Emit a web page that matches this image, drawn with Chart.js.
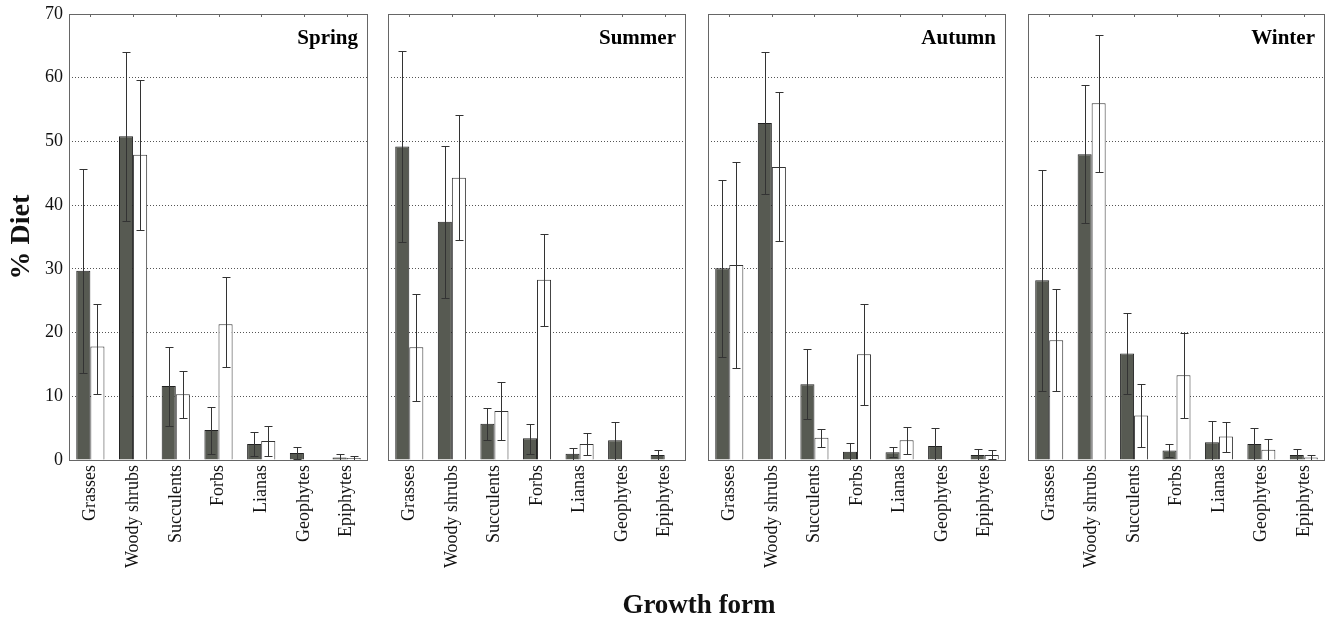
<!DOCTYPE html>
<html lang="en">
<head>
  <meta charset="UTF-8" />
  <title>% Diet by growth form</title>
  <style>
    body {
      margin: 0;
      background: #fff;
      font-family: 'Liberation Serif', 'Times New Roman', serif;
    }
    #wrap {
      position: relative;
      width: 1329px;
      height: 622px;
      overflow: hidden;
    }
    canvas {
      position: absolute;
      top: 0;
    }
    #xtitle {
      position: absolute;
      left: 549px;
      width: 300px;
      top: 588px;
      text-align: center;
      font-weight: bold;
      font-size: 27px;
      line-height: 32px;
      color: #111;
    }
  </style>
</head>
<body>
  <div id="wrap">
    <canvas id="c0" width="370" height="622"></canvas>
    <canvas id="c1" width="302" height="622"></canvas>
    <canvas id="c2" width="302" height="622"></canvas>
    <canvas id="c3" width="301" height="622"></canvas>
    <div id="xtitle">Growth form</div>
  </div>

  <script src="https://cdn.jsdelivr.net/npm/chart.js"></script>
  <script>
    const seasons = ['Spring', 'Summer', 'Autumn', 'Winter'];
    const categories = ['Grasses', 'Woody shrubs', 'Succulents', 'Forbs', 'Lianas', 'Geophytes', 'Epiphytes'];
    const yTicks = [0, 10, 20, 30, 40, 50, 60, 70];

    // dark bars (one row per season)
    const darkMean = [
      [29.7, 50.8, 11.6, 4.7, 2.5, 1.1, 0.4],
      [49.2, 37.4, 5.7, 3.4, 1.0, 3.1, 0.8],
      [30.1, 52.9, 11.9, 1.3, 1.2, 2.2, 0.8],
      [28.2, 48.0, 16.7, 1.5, 2.8, 2.5, 0.8]
    ];
    const darkLow = [
      [13.6, 37.5, 5.4, 1.0, 0.6, 0.1, 0.0],
      [34.2, 25.5, 3.1, 1.0, 0.0, 0.0, 0.0],
      [16.2, 41.7, 6.4, 0.0, 0.5, 0.0, 0.0],
      [10.9, 37.2, 10.3, 0.5, 0.0, 0.0, 0.0]
    ];
    const darkHigh = [
      [45.7, 64.0, 17.7, 8.3, 4.4, 2.1, 0.9],
      [64.2, 49.3, 8.2, 5.7, 1.9, 6.0, 1.6],
      [44.0, 64.1, 17.4, 2.6, 2.1, 5.0, 1.8],
      [45.5, 58.8, 23.0, 2.5, 6.1, 5.0, 1.8]
    ];

    // white bars
    const whiteMean = [
      [17.8, 47.9, 10.3, 21.3, 3.0, 0, 0.3],
      [17.7, 44.3, 7.7, 28.3, 2.5, 0, 0],
      [30.6, 46.0, 3.5, 16.6, 3.1, 0, 0.8],
      [18.8, 56.0, 7.0, 13.3, 3.7, 1.6, 0.4]
    ];
    const whiteLow = [
      [10.4, 36.1, 6.6, 14.6, 0.6, 0, 0.0],
      [9.3, 34.6, 3.1, 21.1, 0.8, 0, 0],
      [14.4, 34.3, 2.1, 8.7, 0.9, 0, 0.1],
      [10.8, 45.2, 2.0, 6.6, 1.3, 0.0, 0.0]
    ];
    const whiteHigh = [
      [24.5, 59.7, 13.9, 28.7, 5.3, 0, 0.7],
      [26.1, 54.1, 12.2, 35.4, 4.2, 0, 0],
      [46.7, 57.7, 4.9, 24.5, 5.2, 0, 1.6],
      [26.8, 66.7, 11.9, 20.0, 5.9, 3.3, 0.8]
    ];

    const DARK = '#575a52';
    const plotLefts = [69, 388, 708, 1028];
    const plotTop = 14;
    const plotBottom = 460;

    // whiskers for each bar
    const errorBars = {
      id: 'errorBars',
      afterDatasetsDraw(chart, args, opts) {
        const ctx = chart.ctx;
        const y = chart.scales.y;
        ctx.save();
        ctx.strokeStyle = '#333';
        ctx.lineWidth = 1;
        chart.data.datasets.forEach((ds, i) => {
          const meta = chart.getDatasetMeta(i);
          meta.data.forEach((bar, j) => {
            const hi = ds.errHigh[j], lo = ds.errLow[j];
            if (!hi) return;
            const x = Math.round(bar.x) + 0.5;
            const yh = Math.round(y.getPixelForValue(hi)) + 0.5;
            const yl = Math.round(y.getPixelForValue(lo)) + 0.5;
            ctx.beginPath();
            ctx.moveTo(x, yh); ctx.lineTo(x, yl);
            ctx.moveTo(x - 4, yh); ctx.lineTo(x + 4, yh);
            if (lo > 0.05) { ctx.moveTo(x - 4, yl); ctx.lineTo(x + 4, yl); }
            ctx.stroke();
          });
        });
        ctx.restore();
      }
    };

    // frame, top tick marks and season name
    const frame = {
      id: 'frame',
      afterDraw(chart, args, opts) {
        const ctx = chart.ctx;
        const a = chart.chartArea;
        ctx.save();
        ctx.strokeStyle = '#666';
        ctx.lineWidth = 1;
        ctx.strokeRect(Math.round(a.left) + 0.5, Math.round(a.top) + 0.5,
                       Math.round(a.right - a.left) - 1, Math.round(a.bottom - a.top));
        const xs = chart.scales.x;
        ctx.beginPath();
        categories.forEach((c, i) => {
          const px = Math.round(xs.getPixelForTick(i)) + 0.5;
          ctx.moveTo(px, a.top); ctx.lineTo(px, a.top + 3);
        });
        ctx.stroke();
        ctx.fillStyle = '#000';
        ctx.font = 'bold 21px "Liberation Serif", serif';
        ctx.textAlign = 'right';
        ctx.textBaseline = 'alphabetic';
        ctx.fillText(opts.label, a.right - 10, a.top + 30);
        ctx.restore();
      }
    };

    function makeChart(k) {
      const first = k === 0;
      const canvas = document.getElementById('c' + k);
      canvas.style.left = (first ? 0 : plotLefts[k] - 2) + 'px';
      new Chart(canvas, {
        type: 'bar',
        data: {
          labels: categories,
          datasets: [
            {
              data: darkMean[k], errLow: darkLow[k], errHigh: darkHigh[k],
              backgroundColor: DARK, borderColor: '#222', borderWidth: 1
            },
            {
              data: whiteMean[k], errLow: whiteLow[k], errHigh: whiteHigh[k],
              backgroundColor: '#fff', borderColor: '#333', borderWidth: 1
            }
          ]
        },
        options: {
          responsive: false,
          animation: false,
          events: [],
          categoryPercentage: 0.66,
          barPercentage: 1.0,
          layout: { padding: { top: plotTop, left: first ? 0 : 2, right: 2, bottom: 0 } },
          plugins: {
            legend: { display: false },
            tooltip: { enabled: false },
            frame: { label: seasons[k] }
          },
          scales: {
            x: {
              grid: { display: false, drawTicks: false },
              border: { display: false },
              ticks: {
                minRotation: 90, maxRotation: 90, autoSkip: false, padding: 5,
                color: '#111',
                font: { family: '"Liberation Serif", serif', size: 18 }
              },
              afterFit(s) {
                s.height = 622 - plotBottom;
                s.paddingLeft = 0; s.paddingRight = 0;
              }
            },
            y: {
              min: 0, max: 70,
              afterBuildTicks(s) { s.ticks = yTicks.map(v => ({ value: v })); },
              grid: {
                drawTicks: false,
                color: ctx => (ctx.tick.value === 0 || ctx.tick.value === 70) ? 'rgba(0,0,0,0)' : '#555',
                lineWidth: 1
              },
              border: { display: false, dash: [1, 2] },
              ticks: {
                display: first, padding: 6, color: '#111',
                font: { family: '"Liberation Serif", serif', size: 18 }
              },
              title: {
                display: first, text: '% Diet', color: '#111',
                padding: { top: 5, bottom: 0 },
                font: { family: '"Liberation Serif", serif', size: 28, weight: 'bold' }
              },
              afterFit(s) {
                s.width = first ? 69 : 0;
                s.paddingTop = 0; s.paddingBottom = 0;
              }
            }
          }
        },
        plugins: [errorBars, frame]
      });
    }

    seasons.forEach((s, k) => makeChart(k));
  </script>
</body>
</html>
